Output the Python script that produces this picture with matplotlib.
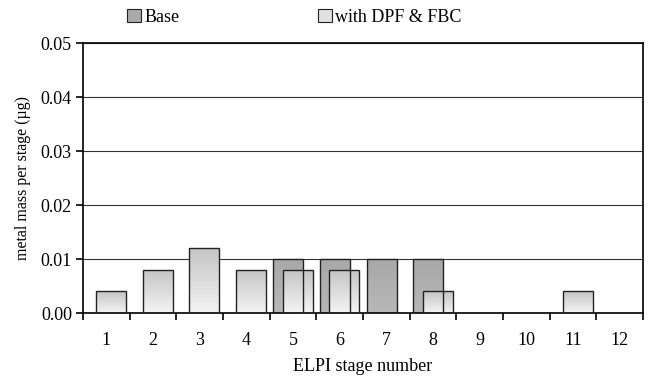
import matplotlib
matplotlib.use("Agg")
import matplotlib.pyplot as plt
import numpy as np
from matplotlib.patches import Rectangle

plt.rcParams['font.family'] = ['Liberation Serif', 'DejaVu Serif']
plt.rcParams['font.size'] = 13

stages = [1, 2, 3, 4, 5, 6, 7, 8, 9, 10, 11, 12]
base = [0, 0, 0, 0, 0.01, 0.01, 0.01, 0.01, 0, 0, 0, 0]
dpf = [0.004, 0.008, 0.012, 0.008, 0.008, 0.008, 0, 0.004, 0, 0, 0.004, 0]
yticks = [0.00, 0.01, 0.02, 0.03, 0.04, 0.05]

fig = plt.figure(figsize=(6.52, 3.83), dpi=100)
ax = fig.add_axes([83/652, 1-313/383, 560/652, 270/383])

x = np.arange(len(stages))
w = 0.64
off = 0.10

grad = np.linspace(0, 1, 256).reshape(-1, 1)

def gradient_bars(xs, vals, top, bottom, ecolor):
    cmap = matplotlib.colors.LinearSegmentedColormap.from_list('g', [bottom, top])
    bars = ax.bar(xs, vals, width=w, facecolor='none', edgecolor=ecolor, linewidth=1.0, zorder=3)
    for b, v in zip(bars, vals):
        if v <= 0:
            b.set_visible(False)
            continue
        x0 = b.get_x(); x1 = x0 + b.get_width()
        im = ax.imshow(grad, extent=[x0, x1, 0, v], origin='lower', aspect='auto',
                       cmap=cmap, zorder=2.5, interpolation='bilinear')
        im.set_clip_path(b)
    return bars

b1 = gradient_bars(x - off, base, '#a8a8a8', '#b8b8b8', '#222222')
b2 = gradient_bars(x + off, dpf, '#c4c4c4', '#f4f4f4', '#222222')

ax.set_xlim(-0.5, len(stages) - 0.5)
ax.set_ylim(0, 0.05)
ax.set_yticks(yticks)
ax.set_yticklabels([f'{v:.2f}' for v in yticks])
ax.set_xticks(np.arange(len(stages) + 1) - 0.5)
ax.set_xticklabels([])
ax.set_xticks(x, minor=True)
ax.set_xticklabels([str(s) for s in stages], minor=True)
ax.tick_params(axis='x', which='minor', length=0, pad=14)
ax.tick_params(axis='x', which='major', direction='out', length=5, width=1.2)
ax.tick_params(axis='y', direction='out', length=5, width=1.2, pad=3)
for s in ax.spines.values():
    s.set_linewidth(1.2)
    s.set_color('black')
ax.yaxis.grid(True, color='#333333', linewidth=0.8, zorder=1)
ax.set_axisbelow(True)

ax.set_xlabel('ELPI stage number', labelpad=6)
ax.set_ylabel('metal mass per stage (µg)', labelpad=7, fontsize=11.5)

h1 = Rectangle((0, 0), 1, 1, facecolor='#aaaaaa', edgecolor='#222222', linewidth=0.8)
h2 = Rectangle((0, 0), 1, 1, facecolor='#e0e0e0', edgecolor='#222222', linewidth=0.8)
fig.legend([h1, h2], ['Base', 'with DPF & FBC'], loc='center left',
           bbox_to_anchor=(127/652, 1-17/383), ncol=2, frameon=False,
           handlelength=0.75, handleheight=0.75, handletextpad=0.2, columnspacing=7.7,
           borderaxespad=0, borderpad=0)

fig.savefig('out.png', dpi=100)
